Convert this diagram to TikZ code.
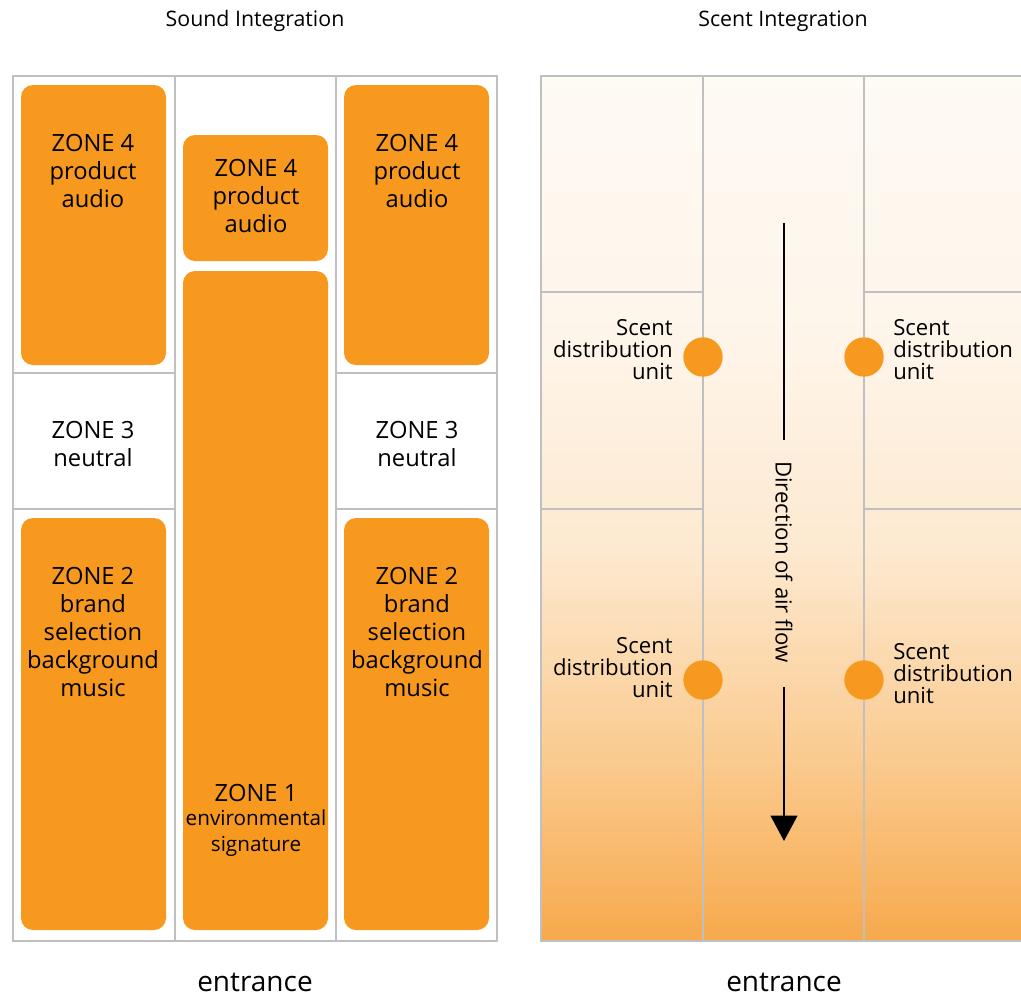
\documentclass[tikz,border=0pt]{standalone}
\usepackage{fontspec}
\setmainfont{Open Sans}
\usetikzlibrary{arrows.meta}
\definecolor{zorange}{HTML}{F8991F}
\definecolor{gridgray}{HTML}{C0C0C0}
\definecolor{sc0}{HTML}{F7A94C}
\definecolor{sc1}{HTML}{FAC98C}
\definecolor{sc2}{HTML}{FDE9D0}
\definecolor{sc3}{HTML}{FEF5EA}
\definecolor{sc4}{HTML}{FEFAF4}
\pgfdeclareverticalshading{scentshade}{100bp}{color(0bp)=(sc0); color(25bp)=(sc0); color(35bp)=(sc1); color(47.5bp)=(sc2); color(60bp)=(sc3); color(75bp)=(sc4); color(100bp)=(sc4)}
\begin{document}
\begin{tikzpicture}[x=0.75pt,y=-0.75pt,
  grid/.style={draw=gridgray,line width=1.1pt},
  zonebox/.style={fill=zorange,rounded corners=9pt},
  zonetext/.style={align=center,font=\fontsize{17.8}{21}\selectfont,inner sep=0pt},
  smalltext/.style={align=center,font=\fontsize{15.5}{19.5}\selectfont,inner sep=0pt},
  title/.style={font=\fontsize{16}{18}\selectfont,inner sep=0pt},
  entr/.style={font=\fontsize{21}{24}\selectfont,inner sep=0pt},
  scentlbl/.style={font=\fontsize{16.6}{16.5}\selectfont,inner sep=0pt},
  unit/.style={circle,fill=zorange,minimum size=29.5pt,inner sep=0pt}]
\useasboundingbox (0,0) rectangle (1021,996);

% ---------- Sound integration ----------
\node[title] (t1) at (255,21) {Sound Integration};
\draw[grid] (13,76) rectangle (497,941);
\draw[grid] (175,76) -- (175,941);
\draw[grid] (336,76) -- (336,941);
\draw[grid] (13,373) -- (175,373);
\draw[grid] (13,509) -- (175,509);
\draw[grid] (336,373) -- (497,373);
\draw[grid] (336,509) -- (497,509);

\path[zonebox] (21,85) rectangle (166,365);
\path[zonebox] (344,85) rectangle (489,365);
\path[zonebox] (183,135) rectangle (328,261);
\path[zonebox] (183,271) rectangle (328,930);
\path[zonebox] (21,518) rectangle (166,930);
\path[zonebox] (344,518) rectangle (489,930);

\node[zonetext] (z4a) at (93,171) {ZONE 4\\product\\audio};
\node[zonetext] (z4b) at (417,171) {ZONE 4\\product\\audio};
\node[zonetext] (z4c) at (256,196) {ZONE 4\\product\\audio};
\node[zonetext] (z3a) at (93,444) {ZONE 3\\neutral};
\node[zonetext] (z3b) at (417,444) {ZONE 3\\neutral};
\node[zonetext] (z2a) at (93,632) {ZONE 2\\brand\\selection\\background\\music};
\node[zonetext] (z2b) at (417,632) {ZONE 2\\brand\\selection\\background\\music};
\node[zonetext] (z1) at (256,793) {ZONE 1};
\node[smalltext,anchor=north] (z1t) at (256,810) {environmental\\signature};
\node[entr] (e1) at (255,982) {entrance};

% ---------- Scent integration ----------
\node[title] (t2) at (783,21) {Scent Integration};
\shade[shading=scentshade] (541,76) rectangle (1026,941);
\draw[grid] (541,76) rectangle (1026,941);
\draw[grid] (703,76) -- (703,941);
\draw[grid] (864,76) -- (864,941);
\draw[grid] (541,292) -- (703,292);
\draw[grid] (541,509) -- (703,509);
\draw[grid] (864,292) -- (1026,292);
\draw[grid] (864,509) -- (1026,509);

\node[unit] (u1) at (703,357) {};
\node[unit] (u2) at (864,357) {};
\node[unit] (u3) at (703,680) {};
\node[unit] (u4) at (864,680) {};

\node[scentlbl,align=right,anchor=east] (l1) at (673,350) {Scent\\distribution\\unit};
\node[scentlbl,align=left,anchor=west] (l2) at (893,350) {Scent\\distribution\\unit};
\node[scentlbl,align=right,anchor=east] (l3) at (673,668) {Scent\\distribution\\unit};
\node[scentlbl,align=left,anchor=west] (l4) at (893,674) {Scent\\distribution\\unit};

\coordinate (atop) at (784,223);
\coordinate (abot) at (784,440);
\coordinate (astart) at (784,687);
\coordinate (atip) at (784,841);
\node[scentlbl,rotate=-90] (dir) at (784,562) {Direction of air flow};
\draw[line width=1.5pt] (atop) -- (abot);
\draw[line width=1.5pt,-{Triangle[width=20pt,length=19pt]}] (astart) -- (atip);
\node[entr] (e2) at (784,982) {entrance};
\end{tikzpicture}
\end{document}
